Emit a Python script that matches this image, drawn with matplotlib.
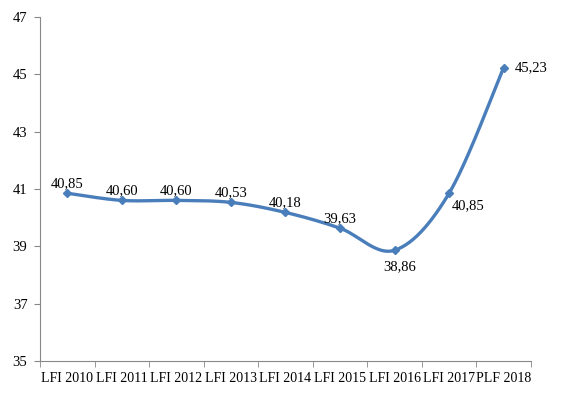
import numpy as np
import matplotlib.pyplot as plt

categories = ["LFI 2010", "LFI 2011", "LFI 2012", "LFI 2013", "LFI 2014",
              "LFI 2015", "LFI 2016", "LFI 2017", "PLF 2018"]
values = [40.85, 40.60, 40.60, 40.53, 40.18, 39.63, 38.86, 40.85, 45.23]
yticks = [35, 37, 39, 41, 43, 45, 47]

# label offsets (points) : above for most, below / right for the last ones
offsets = [(0, 7), (0, 7), (0, 7), (0, 7), (0, 7), (0, 7), (4, -12), (14, -9), (20, 0)]

plt.rcParams['font.family'] = ['Liberation Serif', 'DejaVu Serif']
color = "#4A7EBB"


def smooth(xs, ys, n=30):
    # Excel-like smoothed line: cubic bezier with catmull-rom control points
    xs = np.asarray(xs, float)
    ys = np.asarray(ys, float)
    px = np.concatenate([[xs[0]], xs, [xs[-1]]])
    py = np.concatenate([[ys[0]], ys, [ys[-1]]])
    outx, outy = [], []
    t = np.linspace(0, 1, n)
    for i in range(1, len(px) - 2):
        p0 = np.array([px[i], py[i]])
        p3 = np.array([px[i + 1], py[i + 1]])
        c1 = p0 + (np.array([px[i + 1], py[i + 1]]) - np.array([px[i - 1], py[i - 1]])) / 6
        c2 = p3 - (np.array([px[i + 2], py[i + 2]]) - np.array([px[i], py[i]])) / 6
        b = ((1 - t) ** 3)[:, None] * p0 + (3 * (1 - t) ** 2 * t)[:, None] * c1 \
            + (3 * (1 - t) * t ** 2)[:, None] * c2 + (t ** 3)[:, None] * p3
        outx.extend(b[:, 0])
        outy.extend(b[:, 1])
    return outx, outy


fig = plt.figure(figsize=(5.79, 3.94), dpi=100)
ax = fig.add_axes([0.069, 0.084, 0.848, 0.873])

x = np.arange(len(categories))
sx, sy = smooth(x, values)
ax.plot(sx, sy, color=color, lw=2.4, solid_capstyle='round')
ax.plot(x, values, 'D', color=color, ms=4.5)

for xi, v, off in zip(x, values, offsets):
    ax.annotate(f"{v:.2f}".replace(".", ","), (xi, v), xytext=off,
                textcoords='offset points', ha='center', va='center', fontsize=10.5)

ax.set_xlim(-0.5, len(categories) - 0.5)
ax.set_ylim(35, 47)
ax.set_yticks(yticks)
ax.set_xticks(x)
ax.set_xticklabels(categories, fontsize=10)
ax.set_xticks(np.arange(-0.5, len(categories)), minor=True)
ax.tick_params(axis='x', which='major', length=0, pad=8)
ax.tick_params(axis='x', which='minor', length=4, color='#888888')
ax.tick_params(axis='y', length=4, color='#888888', labelsize=10.5, pad=5)

for s in ['top', 'right']:
    ax.spines[s].set_visible(False)
for s in ['left', 'bottom']:
    ax.spines[s].set_color('#888888')

fig.savefig("out.png", dpi=100)
